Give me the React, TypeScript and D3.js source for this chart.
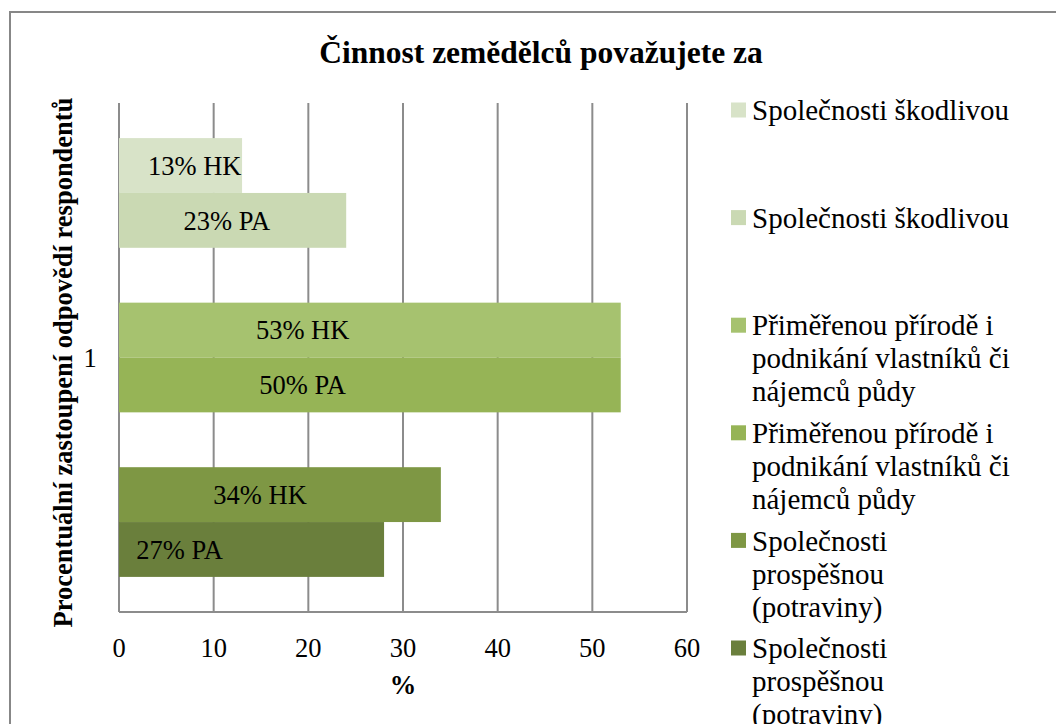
import React from "react";
import * as d3 from "d3";

const categories = ["1"];
const seriesNames = [
  "Společnosti škodlivou",
  "Společnosti škodlivou",
  "Přiměřenou přírodě i podnikání vlastníků či nájemců půdy",
  "Přiměřenou přírodě i podnikání vlastníků či nájemců půdy",
  "Společnosti prospěšnou (potraviny)",
  "Společnosti prospěšnou (potraviny)",
];
const legendLines = [
  ["Společnosti škodlivou"],
  ["Společnosti škodlivou"],
  ["Přiměřenou přírodě i", "podnikání vlastníků či", "nájemců půdy"],
  ["Přiměřenou přírodě i", "podnikání vlastníků či", "nájemců půdy"],
  ["Společnosti", "prospěšnou", "(potraviny)"],
  ["Společnosti", "prospěšnou", "(potraviny)"],
];
const seriesValues = [13, 24, 53, 53, 34, 28];
const barLabels = ["13% HK", "23% PA", "53% HK", "50% PA", "34% HK", "27% PA"];
const labelCenters = [8.0, 11.4, 19.4, 19.4, 14.9, 6.4];
const colors = ["#D8E3C8", "#CAD9B3", "#A6C26F", "#96B456", "#7E9744", "#6A7F3C"];
// slots: pairs separated by an empty slot
const slotKeys = ["s0", "s1", "g1", "s2", "s3", "g2", "s4", "s5"];
const seriesSlot = ["s0", "s1", "s2", "s3", "s4", "s5"];
const xTicks = [0, 10, 20, 30, 40, 50, 60];

const FONT = "'Liberation Serif', 'Times New Roman', serif";

export default function App() {
  const W = 1056, H = 724;
  const left = 119, right = 687, top = 103, bottom = 612;
  const x = d3.scaleLinear().domain([0, 60]).range([left, right]);
  const yCat = d3.scaleBand().domain(categories).range([top, bottom]).paddingInner(0).paddingOuter(0.08);
  const ySlot = d3.scaleBand().domain(slotKeys).range([yCat(categories[0])!, yCat(categories[0])! + yCat.bandwidth()]);
  const fs = 26.5;
  return (
    <svg width={W} height={H} style={{ position: "absolute", left: 0, top: 0, background: "#fff" }}>
      <title>{seriesNames.join("; ")}</title>
      <rect x={10} y={12} width={1070} height={730} fill="#fff" stroke="#878787" strokeWidth={2} />
      <text x={541} y={63} textAnchor="middle" fontFamily={FONT} fontWeight="bold" fontSize={31.5}>
        Činnost zemědělců považujete za
      </text>
      {xTicks.map((t) => (
        <line key={t} x1={x(t)} x2={x(t)} y1={top} y2={bottom} stroke="#8c8c8c" strokeWidth={2} />
      ))}
      <line x1={left} x2={right} y1={bottom} y2={bottom} stroke="#8c8c8c" strokeWidth={2} />
      {seriesValues.map((v, i) => {
        const y0 = ySlot(seriesSlot[i])!;
        return (
          <g key={i}>
            <rect x={x(0)} y={y0} width={x(v) - x(0)} height={ySlot.bandwidth()} fill={colors[i]} />
            <text x={x(labelCenters[i])} y={y0 + ySlot.bandwidth() / 2} dy="0.35em" textAnchor="middle"
              fontFamily={FONT} fontSize={fs}>{barLabels[i]}</text>
          </g>
        );
      })}
      {xTicks.map((t) => (
        <text key={t} x={x(t)} y={657} textAnchor="middle" fontFamily={FONT} fontSize={fs}>{t}</text>
      ))}
      <text x={403} y={694} textAnchor="middle" fontFamily={FONT} fontWeight="bold" fontSize={fs}>%</text>
      <text x={90} y={yCat(categories[0])! + yCat.bandwidth() / 2} dy="0.35em" textAnchor="middle" fontFamily={FONT} fontSize={fs}>
        {categories[0]}
      </text>
      <text transform={`translate(72,${(top + bottom) / 2 + 5}) rotate(-90)`} textAnchor="middle"
        fontFamily={FONT} fontWeight="bold" fontSize={fs}>
        Procentuální zastoupení odpovědí respondentů
      </text>
      {legendLines.map((lines, i) => {
        const y0 = 110 + i * 107.6;
        return (
          <g key={i}>
            <rect x={731} y={y0 - 7.5} width={15} height={15} fill={colors[i]} />
            {lines.map((ln, j) => (
              <text key={j} x={752} y={y0 + j * 33} dy="0.35em" fontFamily={FONT} fontSize={29}>{ln}</text>
            ))}
          </g>
        );
      })}
    </svg>
  );
}
